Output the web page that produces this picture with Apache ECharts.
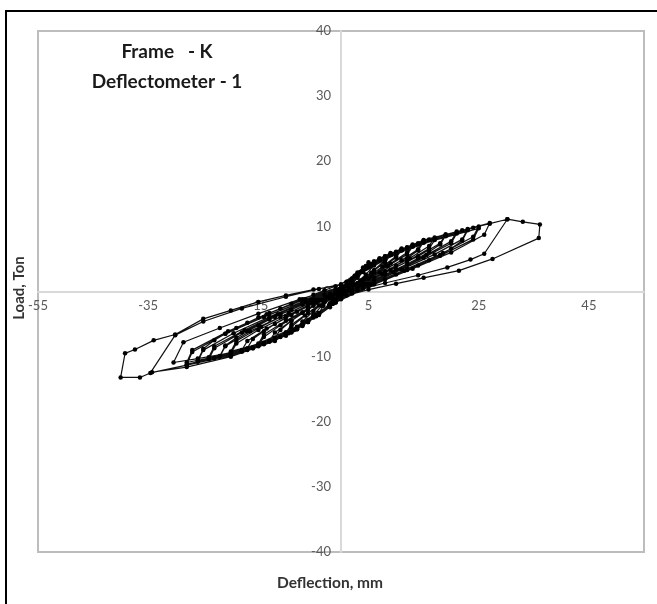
<!DOCTYPE html>
<html>
<head>
<meta charset="utf-8">
<script src="https://cdn.jsdelivr.net/npm/echarts@6/dist/echarts.min.js"></script>
<style>
  html, body { margin: 0; padding: 0; background: #fff; }
  #chart { width: 657px; height: 604px; }
</style>
</head>
<body>
<div id="chart"></div>
<script>
// Hysteresis record: deflection (mm) vs load (ton), one array per loading cycle
const cycle01 = [[0,0],[1,0.9],[2,2.0],[1.5,1.2],[0.5,0.2],[-0.5,-0.6],[-1.2,-1.2],[-2,-1.8],[-1.5,-1.0],[-0.5,-0.2],[0.2,0.3]];
const cycle02 = [[1,0.8],[2.5,2.4],[4,3.7],[3.2,2.6],[2,1.2],[0.8,0.1],[-0.8,-1.0],[-2.2,-2.2],[-4,-3.3],[-3.2,-2.2],[-2,-1.1],[-0.8,0.0],[0.4,0.7]];
const cycle03 = [[1.5,1.5],[3,2.9],[5,4.5],[4.2,3.4],[3,2.1],[1.5,0.6],[0,-0.5],[-2,-1.9],[-4,-3.4],[-6,-4.7],[-5,-3.6],[-3.5,-2.2],[-2,-1.0],[-0.5,0.1],[1,1.0]];
const cycle04 = [[2.5,2.4],[4.5,3.9],[7,5.1],[6,4.0],[4.5,2.6],[2.5,1.1],[0.5,-0.4],[-2,-2.0],[-4.5,-3.8],[-8,-5.8],[-7,-4.6],[-5,-3.0],[-3,-1.6],[-1,-0.3],[1,0.9]];
const cycle05 = [[3,2.8],[6,4.6],[9,5.9],[8,4.8],[6,3.3],[3.5,1.7],[1,0.1],[-1.5,-1.6],[-4.5,-3.7],[-7,-5.3],[-10,-6.6],[-9,-5.4],[-6.5,-3.7],[-4,-2.1],[-1.5,-0.6],[1,0.8]];
const cycle05b = [[2,1.8],[5.5,4.2],[9,5.6],[8,4.5],[5.5,2.9],[3,1.3],[0.5,-0.2],[-2,-1.9],[-5,-3.9],[-10,-6.3],[-9,-5.1],[-6,-3.3],[-3,-1.5],[0,0.2]];
const cycle06 = [[3.5,3.0],[7,5.0],[11,6.6],[10,5.4],[7.5,3.8],[4.5,2.0],[1.5,0.3],[-1.5,-1.7],[-5,-4.0],[-9,-6.1],[-13,-7.6],[-12,-6.3],[-9,-4.5],[-6,-2.8],[-3,-1.2],[0,0.3]];
const cycle06b = [[2,1.7],[4,3.3],[6,4.4],[8,5.4],[11,6.4],[10,5.2],[8,4.0],[6,2.9],[4,1.8],[2,0.7],[0,-0.6],[-2,-2.0],[-4,-3.3],[-6,-4.4],[-8,-5.4],[-10,-6.3],[-12,-7.1],[-11,-5.9],[-9,-4.5],[-7,-3.3],[-5,-2.2],[-3,-1.2],[-1,-0.2],[1,0.8]];
const cycle07 = [[3,2.6],[8,5.4],[13,7.2],[12,6.0],[9,4.3],[5.5,2.4],[2,0.5],[-1.5,-1.8],[-6,-4.6],[-11,-7.0],[-15,-8.3],[-14,-7.0],[-11,-5.2],[-7,-3.2],[-3.5,-1.4],[0,0.2]];
const cycle07b = [[3,2.5],[8,5.2],[13,6.9],[12,5.7],[8.5,3.9],[5,2.0],[1.5,0.2],[-2,-2.0],[-7,-5.0],[-15,-8.0],[-14,-6.6],[-10,-4.5],[-6,-2.6],[-2.5,-0.9],[0,0.2]];
const cycle08 = [[3.5,2.9],[9,5.8],[15,7.8],[14,6.5],[11,4.8],[7,2.9],[3,0.9],[-1,-1.4],[-6,-4.7],[-12,-7.4],[-18,-9.0],[-17,-7.6],[-13.5,-5.7],[-9,-3.6],[-4.5,-1.6],[0,0.3]];
const cycle08b = [[3,2.5],[5,3.9],[7,4.9],[9,5.7],[11,6.4],[13,7.0],[15,7.6],[14,6.3],[12,5.1],[10,4.0],[8,3.0],[6,2.1],[4,1.2],[2,0.3],[0,-0.9],[-2,-2.2],[-4,-3.5],[-6,-4.6],[-8,-5.6],[-10,-6.4],[-12,-7.2],[-14,-7.9],[-17,-8.7],[-16,-7.3],[-14,-6.1],[-12,-5.0],[-10,-4.0],[-8,-3.1],[-6,-2.2],[-4,-1.3],[-2,-0.4],[0,0.5]];
const cycle09 = [[4,3.2],[10,6.1],[17,8.3],[16,7.0],[12.5,5.1],[8,3.1],[3.5,1.0],[-1,-1.4],[-7,-5.1],[-13,-7.7],[-20,-9.5],[-19,-8.0],[-15,-5.9],[-10,-3.8],[-5,-1.7],[0,0.3]];
const cycle09b = [[4,3.0],[10,5.8],[17,7.9],[16,6.6],[12,4.6],[7.5,2.7],[3,0.6],[-1.5,-1.8],[-8,-5.5],[-14,-7.9],[-20,-9.2],[-19,-7.6],[-14.5,-5.4],[-9.5,-3.3],[-4.5,-1.3],[0,0.3]];
const cycle10 = [[4.5,3.5],[11,6.5],[19,8.8],[18,7.4],[14,5.4],[9,3.3],[4,1.1],[-1,-1.5],[-7,-5.2],[-14,-8.0],[-22,-10.0],[-21,-8.4],[-16.5,-6.1],[-11,-3.9],[-5.5,-1.7],[0,0.4]];
const cycle10b = [[2,1.7],[4,3.2],[6,4.4],[8,5.3],[10,6.0],[12,6.7],[14,7.3],[16,7.9],[19,8.6],[18,7.2],[16,6.1],[14,5.1],[12,4.2],[10,3.4],[8,2.6],[6,1.8],[4,1.0],[2,0.2],[0,-0.8],[-2,-2.1],[-4,-3.4],[-6,-4.6],[-8,-5.6],[-10,-6.5],[-12,-7.3],[-14,-8.0],[-16,-8.6],[-18,-9.1],[-22,-9.9],[-21,-8.3],[-19,-7.1],[-17,-6.1],[-15,-5.2],[-13,-4.3],[-11,-3.5],[-9,-2.8],[-7,-2.0],[-5,-1.2],[-3,-0.5],[-1,0.3],[1,1.0]];
const cycle11 = [[5,3.9],[12,6.8],[21,9.2],[20,7.7],[15.5,5.6],[10,3.4],[4.5,1.1],[-1,-1.6],[-8,-5.7],[-15,-8.4],[-24,-10.4],[-23,-8.7],[-18,-6.3],[-12,-3.9],[-6,-1.7],[0,0.5]];
const cycle11b = [[5,3.7],[12,6.6],[21,8.9],[20,7.4],[15,5.2],[9.5,3.0],[4,0.8],[-1.5,-1.9],[-8.5,-5.9],[-16,-8.6],[-24,-10.1],[-23,-8.4],[-17.5,-5.9],[-11.5,-3.5],[-5.5,-1.3],[0,0.5]];
const cycle12 = [[5,3.9],[13,7.1],[23,9.6],[22,8.0],[17,5.7],[11,3.4],[5,1.1],[-1,-1.6],[-8,-5.8],[-16,-8.7],[-26,-10.8],[-25,-9.0],[-19.5,-6.4],[-13,-3.9],[-6.5,-1.6],[0,0.5]];
const cycle12b = [[3,2.4],[5,3.8],[7,4.8],[9,5.6],[11,6.3],[13,6.9],[15,7.5],[17,8.0],[19,8.5],[21,9.0],[23,9.4],[22,7.8],[20,6.6],[18,5.6],[16,4.8],[14,4.0],[12,3.3],[10,2.6],[8,1.9],[6,1.2],[4,0.5],[2,-0.3],[0,-1.2],[-2,-2.4],[-4,-3.6],[-6,-4.7],[-8,-5.7],[-10,-6.6],[-12,-7.4],[-14,-8.1],[-16,-8.7],[-18,-9.2],[-20,-9.7],[-23,-10.2],[-26,-10.6],[-25,-8.8],[-23,-7.5],[-21,-6.5],[-19,-5.6],[-17,-4.8],[-15,-4.0],[-13,-3.3],[-11,-2.6],[-9,-1.9],[-7,-1.2],[-5,-0.5],[-3,0.2],[-1,0.8],[1,1.5]];
const cycle13 = [[5.5,4.2],[14,7.4],[25,10.0],[24,8.4],[18.5,5.9],[12,3.5],[5.5,1.1],[-1,-1.7],[-9,-6.2],[-17,-9.0],[-28,-11.2],[-27,-9.3],[-21,-6.5],[-14,-3.9],[-7,-1.6],[0,0.6]];
const cycle13b = [[5.5,4.0],[14,7.2],[25,9.7],[24,8.0],[18,5.5],[11.5,3.2],[5,0.8],[-1.5,-1.9],[-9.5,-6.4],[-18,-9.2],[-28,-10.9],[-27,-9.0],[-20.5,-6.1],[-13.5,-3.5],[-6.5,-1.2],[0,0.6]];
const cycle14 = [[6,4.4],[15,7.8],[27,10.5],[26,8.7],[20,6.0],[13,3.5],[6,1.1],[-1,-1.7],[-9,-6.3],[-20,-9.4],[-26,-10.3],[-30.4,-10.9],[-28.6,-7.8],[-22,-5.6],[-15,-3.4],[-7.5,-1.2],[0,0.7]];
const cycle15 = [[6,4.5],[16,8.0],[24,9.8],[30.2,11.1],[26,5.8],[23.5,4.9],[19.3,3.7],[14,2.5],[8,1.3],[3,0.2],[-1,-1.6],[-10,-6.8],[-20,-9.8],[-28,-11.3],[-34.6,-12.5],[-30.1,-6.7],[-25,-4.6],[-18,-2.6],[-10,-0.8],[-4,0.4],[0,1.1]];
const cycle16 = [[6,4.6],[15,7.9],[22,9.4],[27,10.4],[30.2,11.1],[33,10.7],[36.1,10.3],[35.9,8.2],[27.5,5.0],[21.4,3.2],[15,2.1],[10,1.2],[5,0.3],[1,-0.6],[-5,-3.6],[-12,-7.6],[-20,-10.0],[-28,-11.6],[-34.3,-12.4],[-36.5,-13.2],[-40,-13.2],[-39.2,-9.5],[-37.4,-8.9],[-34,-7.5],[-30.1,-6.6],[-25,-4.2],[-20,-2.9],[-15,-1.6],[-10,-0.6],[-5,0.3],[0,1.0]];

const cycles = [cycle01, cycle02, cycle03, cycle04, cycle05, cycle05b, cycle06, cycle06b,
                cycle07, cycle07b, cycle08, cycle08b, cycle09, cycle09b, cycle10, cycle10b,
                cycle11, cycle11b, cycle12, cycle12b, cycle13, cycle13b, cycle14, cycle15, cycle16];

// Axis settings
const xRange = [-55, 55];
const xStep = 20;
const yRange = [-40, 40];
const yStep = 10;

const titleLines = ['Frame   - K', 'Deflectometer - 1'];
const xName = 'Deflection, mm';
const yName = 'Load, Ton';

// The test record is one continuous path through all cycles
const path = [].concat(...cycles);

const gridBox = { left: 38, right: 13, top: 31, bottom: 52 };
const plotW = 657 - gridBox.left - gridBox.right;
const plotH = 604 - gridBox.top - gridBox.bottom;

const chart = echarts.init(document.getElementById('chart'), null, { renderer: 'canvas' });
const labelFont = { fontFamily: 'Lato', fontSize: 13, color: '#595959' };

// Axes cross at the origin: shift them inward from the plot edges
const yAxisShift = plotW * (0 - xRange[0]) / (xRange[1] - xRange[0]);
const xAxisShift = plotH * (0 - yRange[0]) / (yRange[1] - yRange[0]);

chart.setOption({
  backgroundColor: '#fff',
  animation: false,
  grid: Object.assign({
    show: true, borderColor: '#bdbdbd', borderWidth: 2, backgroundColor: 'transparent'
  }, gridBox),
  graphic: [
    { type: 'rect', z: 100, shape: { x: 6, y: 11, width: 700, height: 700 },
      style: { fill: 'none', stroke: '#000', lineWidth: 2 } },
    { type: 'text', x: 167, y: 52, z: 100,
      style: { text: titleLines[0], font: 'bold 19px Lato', fill: '#1a1a1a', align: 'center', verticalAlign: 'middle' } },
    { type: 'text', x: 167, y: 82, z: 100,
      style: { text: titleLines[1], font: 'bold 19px Lato', fill: '#1a1a1a', align: 'center', verticalAlign: 'middle' } },
    { type: 'text', x: 330, y: 583, z: 100,
      style: { text: xName, font: 'bold 15.5px Lato', fill: '#333', align: 'center', verticalAlign: 'middle' } },
    { type: 'text', z: 100, x: 19, y: 288, rotation: Math.PI / 2,
      style: { text: yName, font: 'bold 15px Lato', fill: '#333', align: 'center', verticalAlign: 'middle' } }
  ],
  xAxis: {
    type: 'value', min: xRange[0], max: xRange[1], interval: xStep,
    position: 'bottom', offset: -xAxisShift,
    axisLine: { onZero: false, lineStyle: { color: '#d9d9d9', width: 2 } },
    axisTick: { show: false },
    splitLine: { show: false },
    axisLabel: Object.assign({ margin: 8, showMaxLabel: false }, labelFont)
  },
  yAxis: {
    type: 'value', min: yRange[0], max: yRange[1], interval: yStep,
    position: 'left', offset: -yAxisShift,
    axisLine: { onZero: false, lineStyle: { color: '#d9d9d9', width: 2 } },
    axisTick: { show: false },
    splitLine: { show: false },
    axisLabel: Object.assign({ margin: 10 }, labelFont)
  },
  series: [{
    type: 'line',
    data: path,
    showSymbol: true,
    symbol: 'circle',
    symbolSize: 4.5,
    itemStyle: { color: '#000' },
    lineStyle: { color: '#111', width: 1.2 },
    z: 5
  }]
});
</script>
</body>
</html>
